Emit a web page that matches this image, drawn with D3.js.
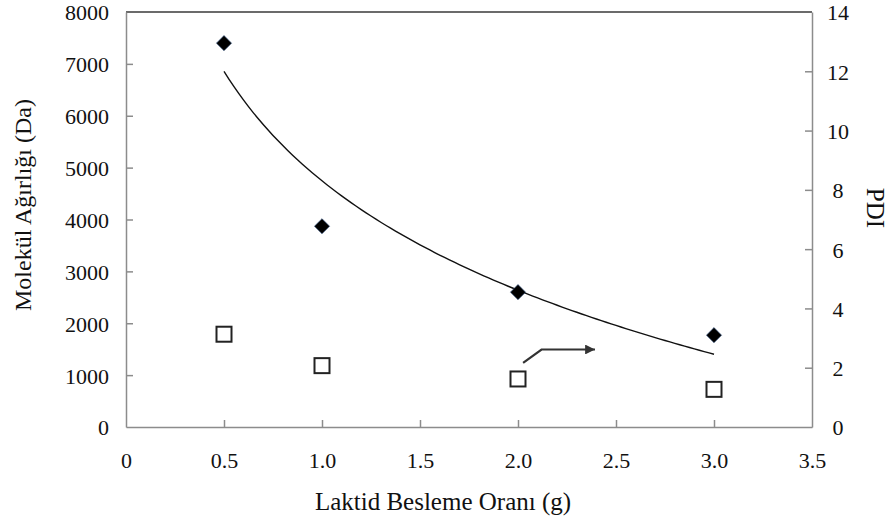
<!DOCTYPE html>
<html><head><meta charset="utf-8">
<script src="https://cdn.jsdelivr.net/npm/d3@7"></script>
<style>
html,body{margin:0;padding:0;background:#fff;}
svg text{font-family:"Liberation Serif","Times New Roman",serif;fill:#111;}
</style></head>
<body>
<svg id="chart" width="892" height="524"></svg>
<script>
// ---- data ----
const feedRatio = [0.5, 1.0, 2.0, 3.0];             // Laktid Besleme Oranı (g)
const molWeight = [7400, 3870, 2600, 1770];          // Molekül Ağırlığı (Da)
const pdi = [3.13, 2.07, 1.62, 1.27];                // PDI
const xTicks = [0, 0.5, 1.0, 1.5, 2.0, 2.5, 3.0, 3.5];
const yLeftTicks = [0, 1000, 2000, 3000, 4000, 5000, 6000, 7000, 8000];
const yRightTicks = [0, 2, 4, 6, 8, 10, 12, 14];
const arrowPath = [[2.026, 1234], [2.12, 1494], [2.393, 1494]]; // annotation (x, left-axis units)

const svg = d3.select("#chart");
const L = 126, R = 812, T = 12, B = 427;

const x = d3.scaleLinear().domain([0, 3.5]).range([L, R]);
const yL = d3.scaleLinear().domain([0, 8000]).range([B, T]);
const yR = d3.scaleLinear().domain([0, 14]).range([B, T]);

// top border
svg.append("line").attr("x1", L).attr("x2", R).attr("y1", T).attr("y2", T)
  .attr("stroke", "#3a3a3a").attr("stroke-width", 1.5);

const axisColor = "#8c8c8c";
function styleAxis(g){
  g.selectAll("path").attr("stroke", axisColor).attr("stroke-width", 1.5);
  g.selectAll("line").attr("stroke", axisColor).attr("stroke-width", 1.5);
  g.selectAll("text").attr("font-size", 22).attr("fill", "#111")
    .attr("font-family", '"Liberation Serif","Times New Roman",serif');
}

// bottom axis
const gx = svg.append("g").attr("transform", `translate(0,${B})`)
  .call(d3.axisBottom(x).tickValues(xTicks).tickSizeInner(-7).tickSizeOuter(0).tickPadding(0)
    .tickFormat((d, i) => d === 0 ? "0" : d3.format(".1f")(d)));
gx.selectAll(".tick line").filter(d => d === 0 || d === 3.5).remove();
styleAxis(gx);
gx.selectAll("text").attr("dy", null).attr("y", 41);

// left axis
const gl = svg.append("g").attr("transform", `translate(${L},0)`)
  .call(d3.axisLeft(yL).tickValues(yLeftTicks).tickSizeInner(-7).tickSizeOuter(0).tickPadding(0)
    .tickFormat(d3.format("d")));
gl.selectAll(".tick line").filter(d => d === 0 || d === 8000).remove();
styleAxis(gl);
gl.selectAll("text").attr("x", -17).attr("dy", "0.36em");

// right axis
const gr = svg.append("g").attr("transform", `translate(${R},0)`)
  .call(d3.axisRight(yR).tickValues(yRightTicks).tickSizeInner(-7).tickSizeOuter(0).tickPadding(0)
    .tickFormat(d3.format("d")));
gr.selectAll(".tick line").filter(d => d === 0 || d === 14).remove();
styleAxis(gr);
gr.selectAll("text").attr("x", 26).attr("text-anchor", "middle").attr("dy", "0.36em");

// axis titles
svg.append("text").attr("x", 443).attr("y", 510).attr("text-anchor", "middle")
  .attr("font-size", 25).text("Laktid Besleme Oranı (g)");
svg.append("text").attr("transform", "translate(31,205) rotate(-90)").attr("text-anchor", "middle")
  .attr("font-size", 24).text("Molekül Ağırlığı (Da)");
svg.append("text").attr("transform", "translate(867,208) rotate(90)").attr("text-anchor", "middle")
  .attr("font-size", 25).text("PDI");

// logarithmic trendline fitted to molecular weight data
const lx = feedRatio.map(Math.log);
const mx = d3.mean(lx), my = d3.mean(molWeight);
const b = d3.sum(lx, (v, i) => (v - mx) * (molWeight[i] - my)) / d3.sum(lx, v => (v - mx) * (v - mx));
const a = my - b * mx;
const xs = d3.range(0, 101).map(i => feedRatio[0] + (feedRatio[feedRatio.length - 1] - feedRatio[0]) * i / 100);
svg.append("path")
  .attr("d", d3.line().x(d => x(d)).y(d => yL(a + b * Math.log(d)))(xs))
  .attr("fill", "none").attr("stroke", "#111").attr("stroke-width", 1.4);

// diamonds (molecular weight)
svg.append("g").selectAll("path").data(feedRatio).join("path")
  .attr("transform", (d, i) => `translate(${x(d)},${yL(molWeight[i])}) rotate(45)`)
  .attr("d", d3.symbol().type(d3.symbolSquare).size(115)())
  .attr("fill", "#000").attr("stroke", "#35527f").attr("stroke-width", 0.6);

// squares (PDI)
svg.append("g").selectAll("rect").data(feedRatio).join("rect")
  .attr("x", d => x(d) - 7.5).attr("y", (d, i) => yR(pdi[i]) - 7.5)
  .attr("width", 15).attr("height", 15)
  .attr("fill", "#fff").attr("stroke", "#222").attr("stroke-width", 2);

// arrow annotation pointing to the right axis
svg.append("defs").append("marker").attr("id", "ah")
  .attr("viewBox", "0 0 10 10").attr("refX", 10).attr("refY", 5)
  .attr("markerWidth", 6).attr("markerHeight", 4.5).attr("markerUnits", "strokeWidth")
  .attr("orient", "auto")
  .append("path").attr("d", "M0,0 L10,5 L0,10 z").attr("fill", "#333");
svg.append("path")
  .attr("d", d3.line().x(d => x(d[0])).y(d => yL(d[1]))(arrowPath))
  .attr("fill", "none").attr("stroke", "#333").attr("stroke-width", 2.2)
  .attr("marker-end", "url(#ah)");
</script>
</body></html>
